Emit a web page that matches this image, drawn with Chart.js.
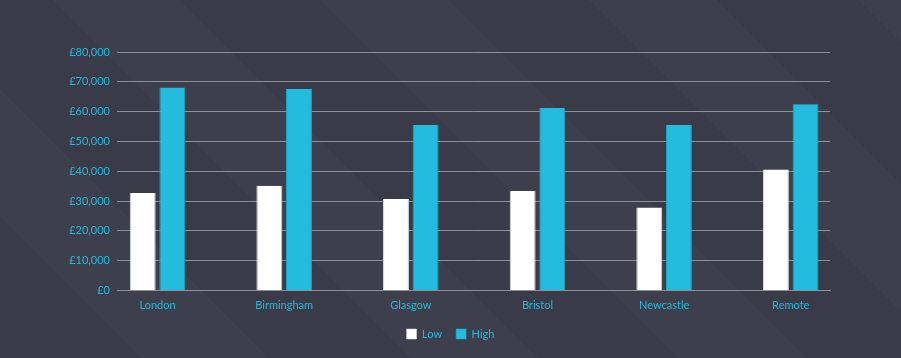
<!DOCTYPE html>
<html>
<head>
<meta charset="utf-8">
<style>
  html, body { margin: 0; padding: 0; }
  body {
    width: 901px; height: 358px; overflow: hidden;
    background-color: #393c48;
    background-image: repeating-linear-gradient(45deg, #393c48 0px, #393c48 100px, #3d404c 100px, #3d404c 190px);
  }
  canvas { display: block; }
</style>
</head>
<body>
<canvas id="salaryChart" width="901" height="358"></canvas>
<script src="https://cdn.jsdelivr.net/npm/chart.js"></script>
<script>
  const cities = ['London', 'Birmingham', 'Glasgow', 'Bristol', 'Newcastle', 'Remote'];
  const low = [32700, 35100, 30700, 33400, 27800, 40600];
  const high = [68100, 67600, 55500, 61200, 55500, 62500];
  const yTicks = [0, 10000, 20000, 30000, 40000, 50000, 60000, 70000, 80000];

  const cyan = '#25b9dc';
  const font = { family: 'Lato', size: 11 };

  const ctx = document.getElementById('salaryChart');
  const salaryChart = new Chart(ctx, {
    type: 'bar',
    data: {
      datasets: [{
        label: 'Low',
        backgroundColor: '#ffffff',
        borderColor: '#d9dadf',
        borderWidth: { left: 1, right: 1, top: 0, bottom: 0 },
        data: low.map((v, i) => ({ x: i, y: v })),
      }, {
        label: 'High',
        backgroundColor: '#23bcdf',
        borderColor: '#1ea5c6',
        borderWidth: { left: 1, right: 1, top: 0, bottom: 0 },
        data: high.map((v, i) => ({ x: i, y: v })),
      }],
    },
    options: {
      responsive: false,
      animation: false,
      devicePixelRatio: 1,
      layout: { padding: { left: 0, right: 0, top: 52, bottom: 8.5 } },
      datasets: { bar: { categoryPercentage: 0.468, barPercentage: 0.875 } },
      scales: {
        x: {
          type: 'linear',
          offset: false,
          min: -0.32,
          max: 5.31,
          afterFit: scale => { scale.height = 24; },
          grid: { display: false, drawTicks: false },
          border: { color: '#8e9098', width: 1 },
          ticks: {
            stepSize: 1,
            includeBounds: false,
            maxRotation: 0,
            autoSkip: false,
            color: cyan,
            font: font,
            padding: 8,
            callback: v => cities[v] || '',
          },
        },
        y: {
          min: 0,
          max: 80000,
          afterBuildTicks: scale => { scale.ticks = yTicks.map(v => ({ value: v })); },
          afterFit: scale => { scale.width = 117; },
          grid: { color: '#8e9098', drawTicks: false },
          border: { display: false },
          ticks: {
            color: cyan,
            font: font,
            padding: 7,
            callback: v => '£' + v.toLocaleString('en-GB'),
          },
        },
        // empty right-hand gutter so the legend stays centred on the page
        gutter: {
          position: 'right',
          afterFit: scale => { scale.width = 71; },
          grid: { display: false, drawTicks: false },
          border: { display: false },
          ticks: { display: false },
        },
      },
      plugins: {
        legend: {
          position: 'bottom',
          labels: {
            color: cyan,
            font: font,
            boxWidth: 10,
            boxHeight: 10,
            padding: 14,
          },
        },
        tooltip: { enabled: false },
      },
    },
  });
</script>
</body>
</html>
